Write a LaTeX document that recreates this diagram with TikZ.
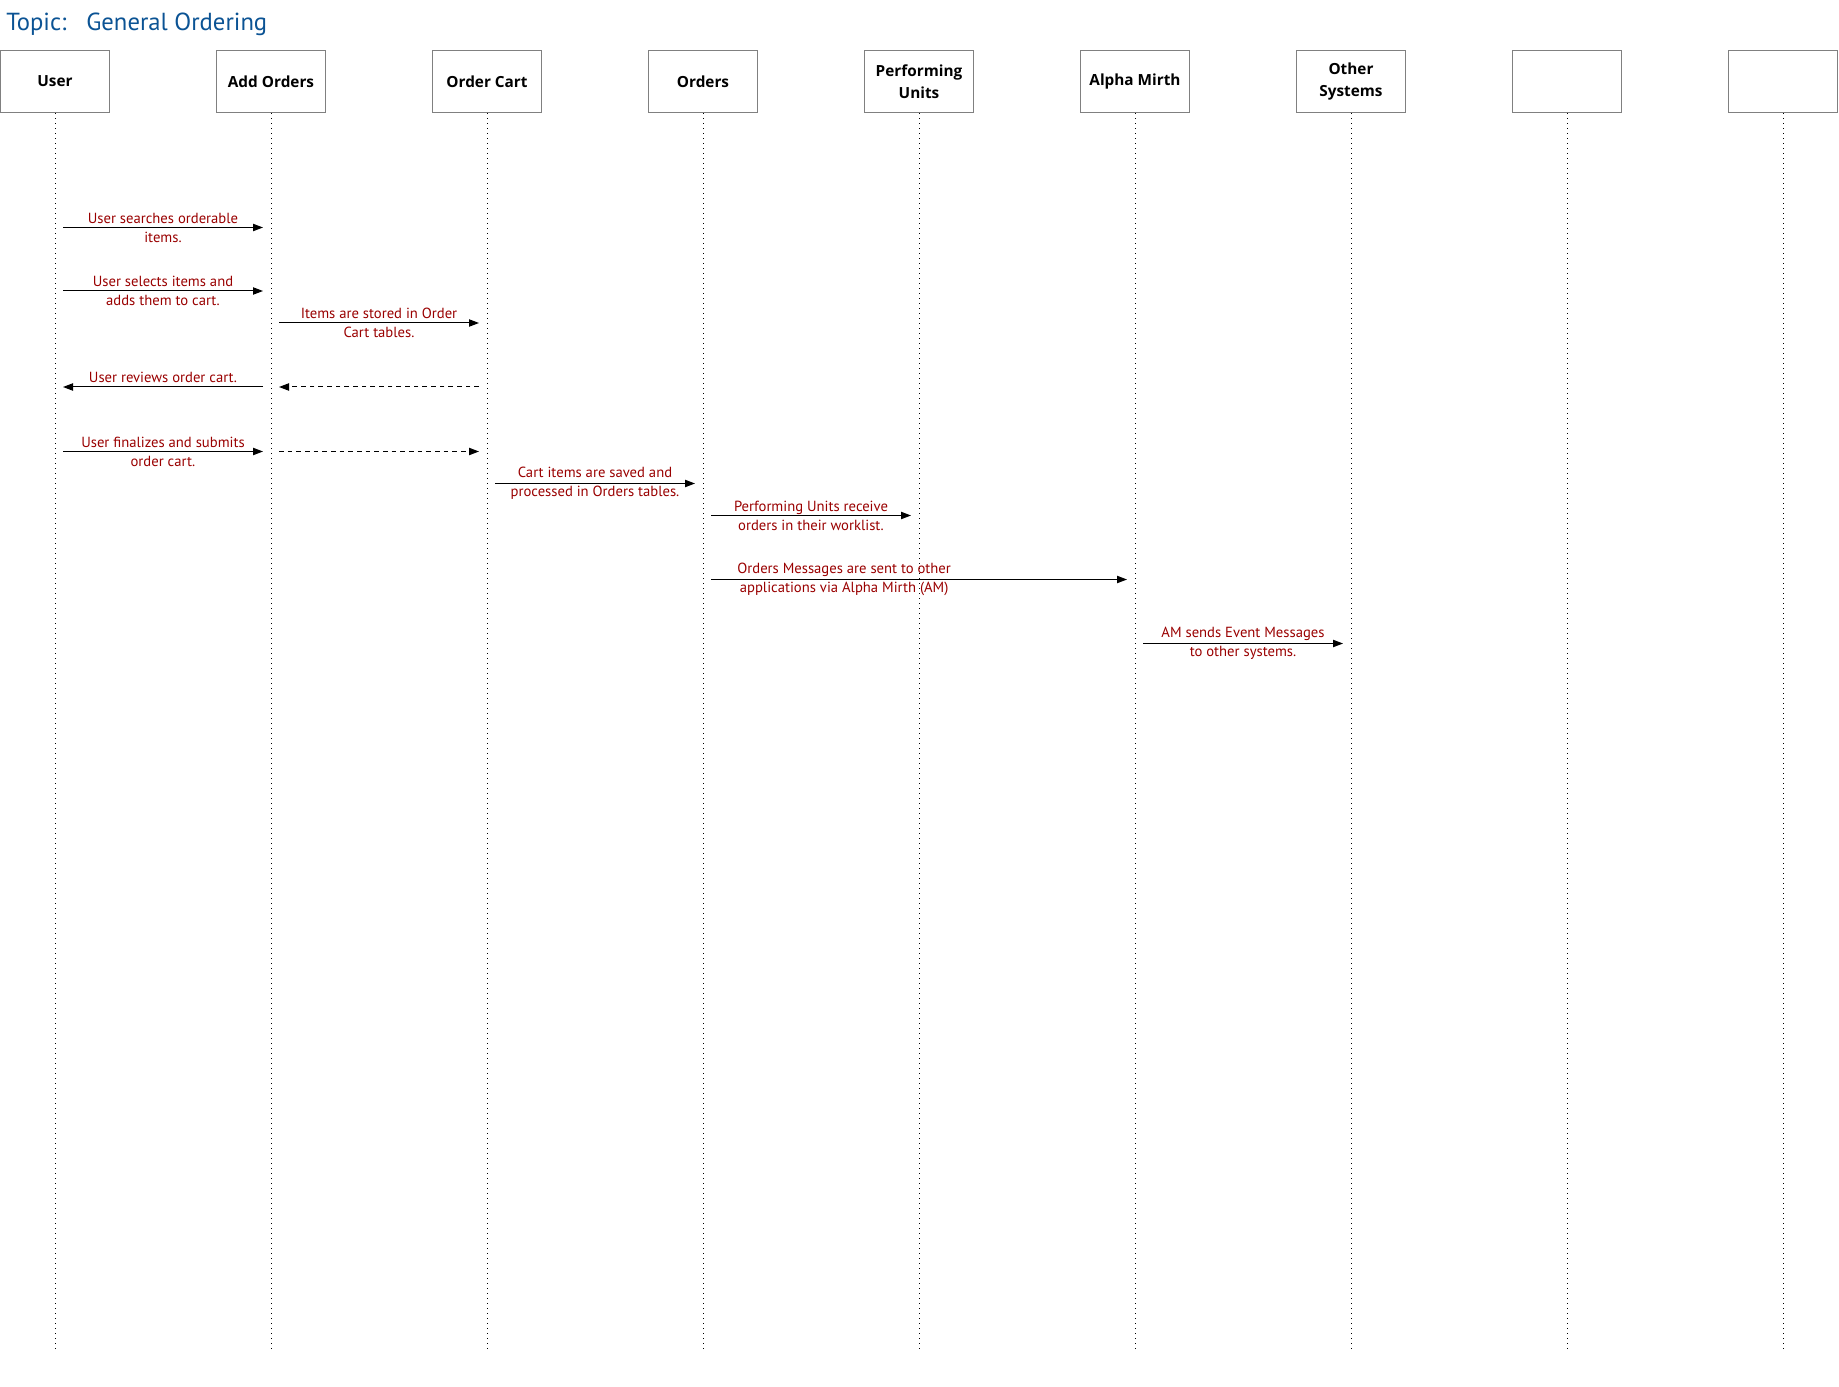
\documentclass[tikz,border=0pt]{standalone}
\usepackage{fontspec}
\setmainfont{PT Sans}
\newfontfamily\headfont{Open Sans}
\usetikzlibrary{arrows.meta}
\definecolor{titleblue}{HTML}{0B5394}
\definecolor{msgred}{HTML}{990000}
\definecolor{boxgray}{HTML}{808080}
\tikzset{
  actor/.style={draw=boxgray, line width=0.9pt, fill=white, minimum width=109*0.75pt,
    minimum height=62.5*0.75pt, inner sep=0pt, align=center,
    font=\headfont\bfseries\fontsize{11.5}{16.5}\selectfont},
  lifeline/.style={line width=0.6pt, dash pattern=on 0.75pt off 3pt},
  msg/.style={line width=0.75pt, -{Triangle[length=7.5pt,width=5.5pt]}},
  reply/.style={msg, dash pattern=on 3.5pt off 3pt},
  lbl/.style={text=msgred, align=center, inner sep=0pt,
    font=\fontsize{11}{14.2}\selectfont},
}
\begin{document}
\begin{tikzpicture}[x=0.75pt,y=-0.75pt]
\useasboundingbox (0,0) rectangle (1839,1387);

% title
\node[anchor=west, text=titleblue, inner sep=0pt, font=\fontsize{18.5}{22}\selectfont]
  (title) at (6,24.5) {Topic:\hspace{0.45em} General Ordering};

% participants
\foreach \i/\x/\t in {1/55/User, 2/271/Add Orders, 3/487/Order Cart, 4/703/Orders,
    5/919/Performing\\Units, 6/1135/Alpha Mirth, 7/1351/Other\\Systems, 8/1567/, 9/1783/}{
  \node[actor] (h\i) at (\x,81.5) {\t};
  \coordinate (e\i) at (\x,1349);
  \draw[lifeline] (h\i.south) -- (e\i);
}

% messages
\draw[msg] ([xshift=6pt]h1 |- 0,227.5) -- ([xshift=-6pt]h2 |- 0,227.5)
  node[lbl, midway] (m1) {User searches orderable\\items.};
\draw[msg] ([xshift=6pt]h1 |- 0,291) -- ([xshift=-6pt]h2 |- 0,291)
  node[lbl, midway] (m2) {User selects items and\\adds them to cart.};
\draw[msg] ([xshift=6pt]h2 |- 0,323) -- ([xshift=-6pt]h3 |- 0,323)
  node[lbl, midway] (m3) {Items are stored in Order\\Cart tables.};
\draw[msg] ([xshift=-6pt]h2 |- 0,387) -- ([xshift=6pt]h1 |- 0,387)
  node[lbl, midway, anchor=south, yshift=3pt] (m4) {User reviews order cart.};
\draw[reply] ([xshift=-6pt]h3 |- 0,387) -- ([xshift=6pt]h2 |- 0,387);
\draw[msg] ([xshift=6pt]h1 |- 0,451.5) -- ([xshift=-6pt]h2 |- 0,451.5)
  node[lbl, midway] (m5) {User finalizes and submits\\order cart.};
\draw[reply] ([xshift=6pt]h2 |- 0,451.5) -- ([xshift=-6pt]h3 |- 0,451.5);
\draw[msg] ([xshift=6pt]h3 |- 0,483.5) -- ([xshift=-6pt]h4 |- 0,483.5)
  node[lbl, midway] (m6) {Cart items are saved and\\processed in Orders tables.};
\draw[msg] ([xshift=6pt]h4 |- 0,515.5) -- ([xshift=-6pt]h5 |- 0,515.5)
  node[lbl, midway] (m7) {Performing Units receive\\orders in their worklist.};
\draw[msg] ([xshift=6pt]h4 |- 0,579.5) -- ([xshift=-6pt]h6 |- 0,579.5)
  node[lbl, pos=0.32] (m8) {Orders Messages are sent to other\\applications via Alpha Mirth (AM)};
\draw[msg] ([xshift=6pt]h6 |- 0,643.5) -- ([xshift=-6pt]h7 |- 0,643.5)
  node[lbl, midway] (m9) {AM sends Event Messages\\to other systems.};
\end{tikzpicture}
\end{document}
